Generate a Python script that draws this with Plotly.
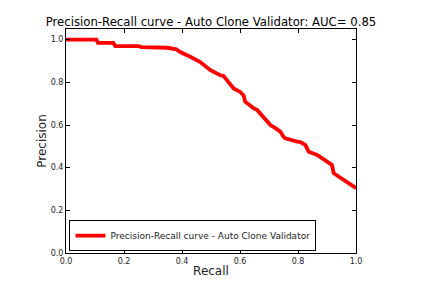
import plotly.graph_objects as go

recall = [0.0, 0.105, 0.11, 0.163, 0.17, 0.25, 0.26, 0.35, 0.38, 0.394, 0.43, 0.463,
          0.498, 0.509, 0.532, 0.543, 0.567, 0.578, 0.601, 0.612, 0.618, 0.647, 0.658,
          0.681, 0.699, 0.705, 0.722, 0.739, 0.75, 0.756, 0.797, 0.808, 0.825, 0.837,
          0.866, 0.9, 0.917, 0.923, 0.957, 1.0]
precision = [1.0, 1.0, 0.985, 0.985, 0.97, 0.97, 0.965, 0.962, 0.955, 0.942, 0.919, 0.895,
             0.857, 0.849, 0.833, 0.83, 0.787, 0.771, 0.755, 0.74, 0.709, 0.678, 0.672,
             0.639, 0.61, 0.6, 0.585, 0.569, 0.545, 0.538, 0.522, 0.52, 0.507, 0.475,
             0.46, 0.429, 0.413, 0.374, 0.343, 0.304]
tick_vals = [0.0, 0.2, 0.4, 0.6, 0.8, 1.0]
tick_text = ["0.0", "0.2", "0.4", "0.6", "0.8", "1.0"]

FONT = "DejaVu Sans"

fig = go.Figure()
fig.add_trace(go.Scatter(
    x=recall, y=precision, mode="lines",
    line=dict(color="#ff0000", width=3.8),
    name="Precision-Recall curve - Auto Clone Validator",
))

axis_common = dict(
    showline=True, linecolor="black", linewidth=1, mirror="allticks",
    ticks="inside", ticklen=4, tickcolor="black", tickwidth=1,
    showgrid=False, zeroline=False, automargin=False,
    tickvals=tick_vals, ticktext=tick_text,
    tickfont=dict(family=FONT, size=8, color="#222222"),
)

# page body has an 8px margin, so the figure is 8px smaller than the window
W, H = 420, 275
fig.update_layout(
    width=W, height=H,
    margin=dict(l=58, r=72, t=21, b=30),
    paper_bgcolor="white", plot_bgcolor="white",
    font=dict(family=FONT, color="black"),
    title=dict(
        text="Precision-Recall curve - Auto Clone Validator: AUC= 0.85",
        x=0.5, xref="paper", xanchor="center",
        y=1 - 14 / H, yanchor="middle",
        font=dict(family=FONT, size=11.7, color="black"),
    ),
    xaxis=dict(range=[0, 1], title=dict(text="Recall", standoff=2,
               font=dict(family=FONT, size=12, color="#222222")), **axis_common),
    yaxis=dict(range=[0, 1.05], title=dict(text="Precision", standoff=1,
               font=dict(family=FONT, size=12, color="#222222")), **axis_common),
    showlegend=True,
    legend=dict(
        x=0.012, y=0.008, xanchor="left", yanchor="bottom",
        bordercolor="black", borderwidth=1, bgcolor="white",
        font=dict(family=FONT, size=9, color="#222222"),
        itemwidth=30, tracegroupgap=0,
    ),
)

fig.write_html("out.html")
